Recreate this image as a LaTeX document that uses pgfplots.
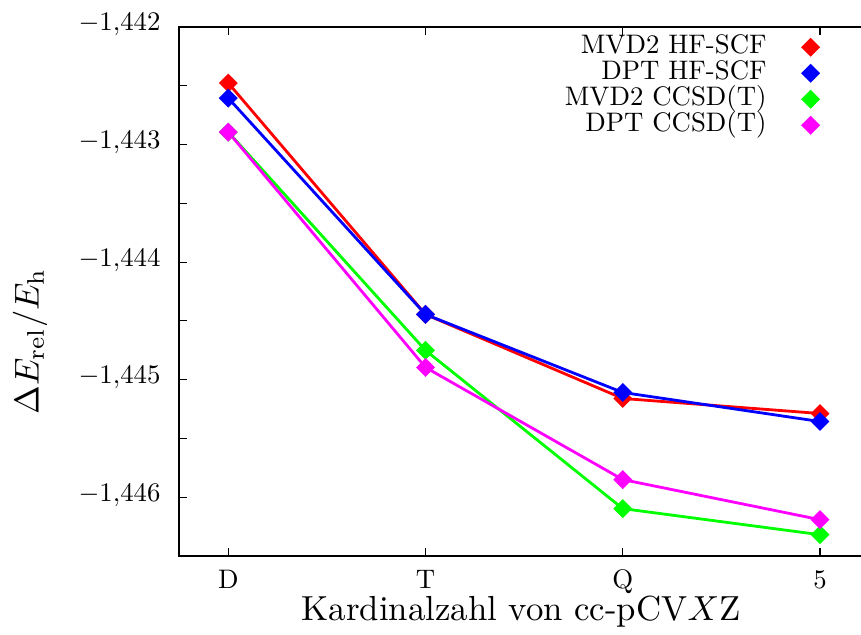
\documentclass[border=0pt]{standalone}
\usepackage{graphicx}
\usepackage{pgfplots}
\pgfplotsset{compat=1.18}
\definecolor{myred}{RGB}{255,0,0}
\definecolor{myblue}{RGB}{0,0,255}
\definecolor{mygreen}{RGB}{0,255,0}
\definecolor{mymag}{RGB}{255,0,255}
\newcommand{\leg}[1]{\scalebox{1.34}{#1}}
\begin{document}
\begin{tikzpicture}
\begin{axis}[
  name=ax,
  scale only axis,
  width=342pt, height=264.5pt,
  xmin=-0.25, xmax=3.218,
  ymin=-1.4465, ymax=-1.442,
  xtick={0,1,2,3},
  xticklabels={D,T,Q,5},
  ytick={-1.446,-1.445,-1.444,-1.443,-1.442},
  minor y tick num=1,
  ytick pos=left,
  tick align=inside,
  major tick length=4pt, minor tick length=4pt,
  tick style={line width=0.6pt, black},
  axis line style={line width=1pt},
  scaled y ticks=false,
  yticklabel style={/pgf/number format/.cd, use comma, fixed, precision=3, fixed zerofill, /tikz/.cd, font=\normalsize, anchor=base east, xshift=-4.5pt, yshift=-2pt, scale=1.34},
  xticklabel style={font=\normalsize, anchor=base, yshift=-16.5pt, scale=1.34},
  xlabel={Kardinalzahl von cc-pCV$X$Z},
  ylabel={$\Delta E_{\mathrm{rel}}/E_{\mathrm{h}}$},
  every axis x label/.style={font=\normalsize, at={(rel axis cs:0.5,0)}, anchor=base, yshift=-32.5pt, scale=1.74},
  every axis y label/.style={font=\normalsize, at={([xshift=-74.5pt,yshift=-25pt]rel axis cs:0,0.5)}, rotate=90, anchor=center, scale=1.72},
  legend plot pos=right,
  legend cell align=right,
  legend style={draw=none, fill=none, font=\normalsize, at={(rel axis cs:0.935,0.987)}, anchor=north east, inner sep=0pt, column sep=15.25pt, nodes={inner xsep=3pt, inner ysep=0.5pt, text height=9pt, text depth=3pt}},
  legend image code/.code={\draw[#1, only marks] plot coordinates {(0pt,0pt)};},
  every axis plot/.append style={line width=1.4pt, mark=square*, mark size=2.65pt, mark options={rotate=45, solid}},
]
\addplot[color=myred] coordinates {(0,-1.442477) (1,-1.444445) (2,-1.445160) (3,-1.445288)};
\addlegendentry{\leg{MVD2 HF-SCF}}
\addplot[color=myblue] coordinates {(0,-1.442605) (1,-1.444445) (2,-1.445109) (3,-1.445356)};
\addlegendentry{\leg{DPT HF-SCF}}
\addplot[color=mygreen] coordinates {(0,-1.442894) (1,-1.444751) (2,-1.446097) (3,-1.446319)};
\addlegendentry{\leg{MVD2 CCSD(T)}}
\addplot[color=mymag] coordinates {(0,-1.442894) (1,-1.444896) (2,-1.445850) (3,-1.446191)};
\addlegendentry{\leg{DPT CCSD(T)}}
\end{axis}
\pgfresetboundingbox
\path[use as bounding box] ([shift={(-89.5pt,-39.5pt)}]ax.south west) rectangle ([shift={(341pt,278pt)}]ax.south west);
\end{tikzpicture}
\end{document}
